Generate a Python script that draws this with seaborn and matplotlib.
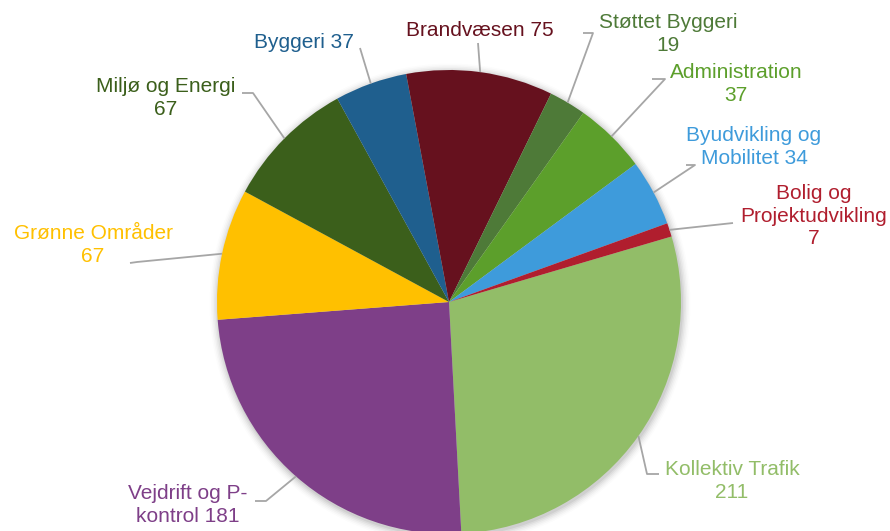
import numpy as np
import matplotlib
matplotlib.use("Agg")
import matplotlib.pyplot as plt
import seaborn as sns

# ─────────────────────────────────────────────
# DATA
# ─────────────────────────────────────────────
categories = [
    "Kollektiv Trafik", "Vejdrift og P-kontrol", "Grønne Områder",
    "Miljø og Energi", "Byggeri", "Brandvæsen", "Støttet Byggeri",
    "Administration", "Byudvikling og Mobilitet", "Bolig og Projektudvikling",
]
values = [211, 181, 67, 67, 37, 75, 19, 37, 34, 7]
label_texts = [
    "Kollektiv Trafik\n{}", "Vejdrift og P-\nkontrol {}", "Grønne Områder\n{}",
    "Miljø og Energi\n{}", "Byggeri {}", "Brandvæsen {}", "Støttet Byggeri\n{}",
    "Administration\n{}", "Byudvikling og\nMobilitet {}", "Bolig og\nProjektudvikling\n{}",
]
colors = [
    "#92BD68", "#7E3F88", "#FFC000", "#3B5F1B", "#1F5F8E",
    "#66111E", "#4E7A38", "#5C9F2B", "#3E9BDB", "#B01E2E",
]

# ─────────────────────────────────────────────
# LAYOUT (pixel coords, y measured from top)
# ─────────────────────────────────────────────
W, H = 890, 531
CX, CY, R = 449, 302, 232
START = 16.4

# text centre, elbow point, end of horizontal stub
label_pos = [(732, 481), (188, 505), (93, 245), (166, 98), (304, 42),
             (480, 30), (668, 34), (736, 84), (754, 147), (814, 216)]
elbows = [(647, 474), (266, 501), (137, 262), (253, 93), (360, 48),
          (478, 43), (593, 33), (665, 79), (695, 165), (733, 223)]
stubs = [(659, 474), (255, 501), (130, 263), (242, 93), (360, 48),
         (478, 43), (583, 33), (652, 79), (686, 165), (733, 223)]


def fy(y):
    return H - y


sns.set_theme(style="white")
plt.rcParams["font.family"] = ["Liberation Sans", "DejaVu Sans"]

fig = plt.figure(figsize=(W / 100, H / 100), dpi=100)
ax = fig.add_axes([0, 0, 1, 1])

# soft shadow behind the pie
for i, a in enumerate(np.linspace(0.05, 0.012, 6)):
    ax.add_patch(plt.Circle((CX + 1, fy(CY) - 2), R + 1 + i * 1.5,
                            color="black", alpha=a, lw=0, zorder=0))

wedges, _ = ax.pie(values, colors=colors, startangle=START, counterclock=False,
                   center=(CX, fy(CY)), radius=R, frame=True,
                   wedgeprops=dict(linewidth=0, zorder=2))
ax.set_xlim(0, W)
ax.set_ylim(0, H)
ax.set_aspect("equal")
ax.axis("off")

for w, v, txt, c, (tx, ty), (ex, ey), (sx, sy) in zip(
        wedges, values, label_texts, colors, label_pos, elbows, stubs):
    mid = np.deg2rad((w.theta1 + w.theta2) / 2)
    px = CX + R * np.cos(mid)
    py = fy(CY) + R * np.sin(mid)
    ax.plot([px, ex, sx], [py, fy(ey), fy(sy)], color="#A6A6A6",
            lw=1.3, zorder=3, solid_capstyle="butt")
    ax.text(tx, fy(ty), txt.format(v), color=c, fontsize=15,
            ha="center", va="center", linespacing=1.22, zorder=4)

fig.savefig("out.png", dpi=100, facecolor="white")
